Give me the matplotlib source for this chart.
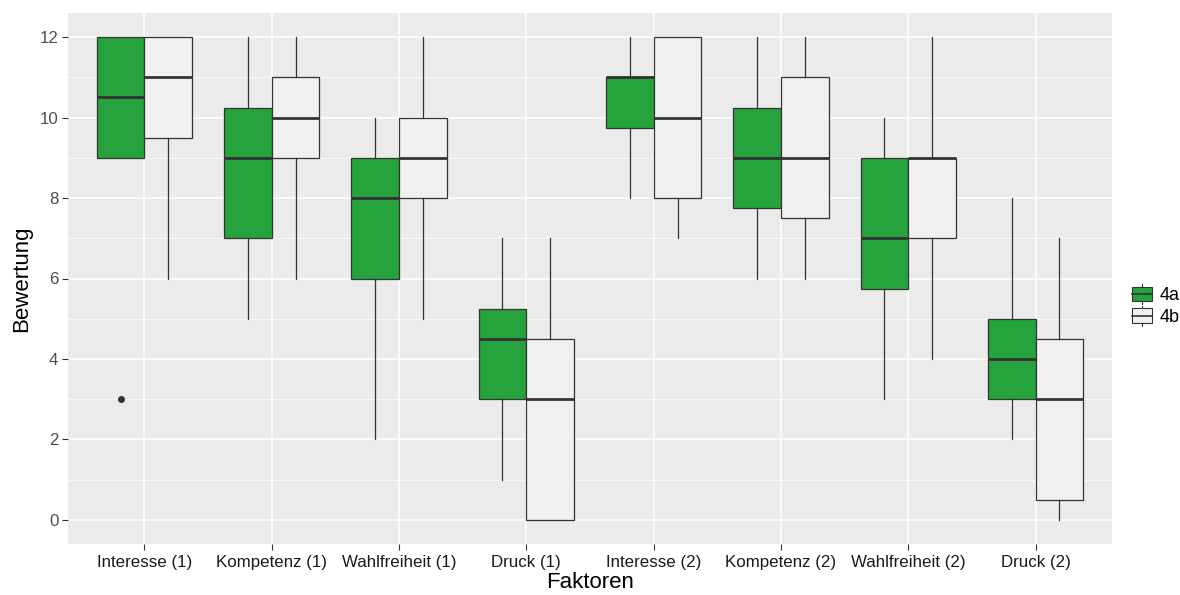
import matplotlib
matplotlib.use("Agg")
import matplotlib.pyplot as plt
from matplotlib.legend_handler import HandlerBase
from matplotlib.patches import Rectangle
from matplotlib.lines import Line2D
import numpy as np

plt.rcParams["font.family"] = ["Liberation Sans", "DejaVu Sans"]

factors = ["Interesse (1)", "Kompetenz (1)", "Wahlfreiheit (1)", "Druck (1)",
           "Interesse (2)", "Kompetenz (2)", "Wahlfreiheit (2)", "Druck (2)"]
groups = ["4a", "4b"]
colors = {"4a": "#27A33E", "4b": "#F0F0F0"}

# box statistics per group: whisker low, q1, median, q3, whisker high
whislo = {"4a": [9, 5, 2, 1, 8, 6, 3, 2],
          "4b": [6, 6, 5, 0, 7, 6, 4, 0]}
q1 = {"4a": [9, 7, 6, 3, 9.75, 7.75, 5.75, 3],
      "4b": [9.5, 9, 8, 0, 8, 7.5, 7, 0.5]}
med = {"4a": [10.5, 9, 8, 4.5, 11, 9, 7, 4],
       "4b": [11, 10, 9, 3, 10, 9, 9, 3]}
q3 = {"4a": [12, 10.25, 9, 5.25, 11, 10.25, 9, 5],
      "4b": [12, 11, 10, 4.5, 12, 11, 9, 4.5]}
whishi = {"4a": [12, 12, 10, 7, 12, 12, 10, 8],
          "4b": [12, 12, 12, 7, 12, 12, 12, 7]}
fliers = {"4a": [[3], [], [], [], [], [], [], []],
          "4b": [[], [], [], [], [], [], [], []]}


class BoxKeyHandler(HandlerBase):
    def create_artists(self, legend, orig_handle, xdescent, ydescent,
                       width, height, fontsize, trans):
        cx = width / 2 - xdescent
        w = width * 0.85
        h = height * 0.75
        y0 = (height - h) / 2 - ydescent
        line = Line2D([cx, cx], [-ydescent, height - ydescent],
                      color="#333333", lw=0.8, transform=trans)
        rect = Rectangle((cx - w / 2, y0), w, h,
                         facecolor=orig_handle.get_facecolor(),
                         edgecolor="#333333", lw=0.8, transform=trans)
        mid = Line2D([cx - w / 2, cx + w / 2], [y0 + h / 2, y0 + h / 2],
                     color="#333333", lw=1.2, transform=trans)
        return [line, rect, mid]


fig = plt.figure(figsize=(11.8, 5.95), dpi=100)
ax = fig.add_axes([68 / 1180, 51 / 595, 1044 / 1180, 531 / 595])
ax.set_facecolor("#EBEBEB")
for s in ax.spines.values():
    s.set_visible(False)

x = np.arange(1, len(factors) + 1)
width = 0.375
for gi, g in enumerate(groups):
    stats = []
    for i in range(len(factors)):
        stats.append({"whislo": whislo[g][i], "q1": q1[g][i], "med": med[g][i],
                      "q3": q3[g][i], "whishi": whishi[g][i],
                      "fliers": fliers[g][i]})
    pos = x + (gi - 0.5) * width
    ax.bxp(stats, positions=pos, widths=width, patch_artist=True,
           showcaps=False, zorder=3,
           boxprops=dict(facecolor=colors[g], edgecolor="#333333", lw=0.9),
           medianprops=dict(color="#333333", lw=2),
           whiskerprops=dict(color="#333333", lw=0.9),
           flierprops=dict(marker="o", markersize=4, markerfacecolor="#333333",
                           markeredgecolor="#333333"))

ax.set_xlim(0.4, len(factors) + 0.6)
ax.set_ylim(-0.6, 12.6)
ax.set_xticks(x, factors)
ax.set_yticks(np.arange(0, 13, 2))
ax.set_yticks(np.arange(1, 13, 2), minor=True)
ax.grid(which="major", color="white", lw=1.1, zorder=0)
ax.grid(which="minor", axis="y", color="white", lw=0.5, zorder=0)
ax.set_axisbelow(True)
ax.tick_params(axis="both", which="major", length=4, color="#333333",
               labelsize=12.2)
ax.tick_params(axis="x", labelcolor="#1A1A1A", pad=4)
ax.tick_params(axis="y", labelcolor="#4D4D4D", pad=3)
ax.tick_params(axis="both", which="minor", length=0)
ax.set_xlabel("Faktoren", fontsize=16, labelpad=1)
ax.set_ylabel("Bewertung", fontsize=16, labelpad=5)

handles = [Rectangle((0, 0), 1, 1, facecolor=colors[g]) for g in groups]
fig.legend(handles, groups, loc="center left",
           bbox_to_anchor=(1121 / 1180, 290 / 595), frameon=False,
           fontsize=13, handlelength=1.3, handleheight=1.3,
           handletextpad=0.35, labelspacing=0.1, borderpad=0,
           handler_map={Rectangle: BoxKeyHandler()})

fig.savefig("out.png", dpi=100)
